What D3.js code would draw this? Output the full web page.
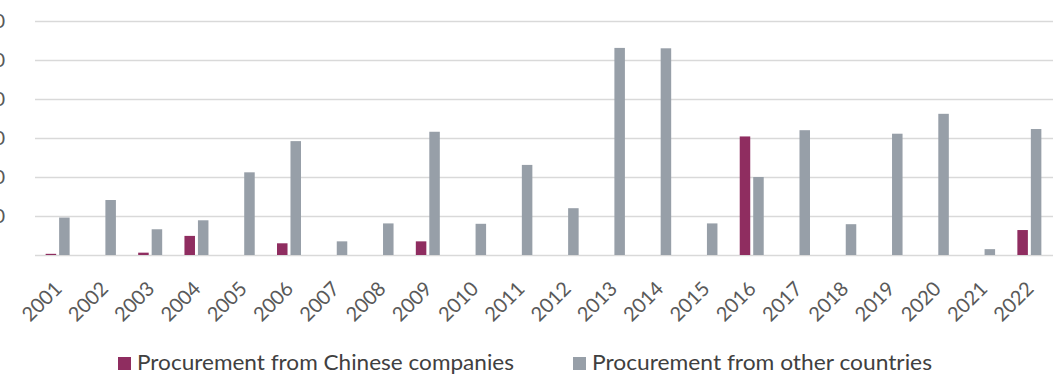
<!DOCTYPE html>
<html>
<head>
<meta charset="utf-8">
<script src="https://cdn.jsdelivr.net/npm/d3@7"></script>
<style>
  html, body { margin: 0; padding: 0; background: #fff; }
  svg { display: block; font-family: Lato, "Open Sans", sans-serif; }
</style>
</head>
<body>
<svg id="chart" width="1063" height="374"></svg>
<script>
// Annual procurement, by source
const years = ["2001","2002","2003","2004","2005","2006","2007","2008","2009","2010","2011",
               "2012","2013","2014","2015","2016","2017","2018","2019","2020","2021","2022"];
const chinese = [3, 0, 6, 49, 0, 30, 0, 0, 35, 0, 0, 0, 0, 0, 0, 304, 0, 0, 0, 0, 0, 64];
const other   = [96, 141, 66, 89, 212, 292, 35, 81, 316, 80, 231, 120, 531, 530, 81, 200, 320, 79, 311, 362, 15, 323];
const seriesNames = ["Procurement from Chinese companies", "Procurement from other countries"];
const seriesColors = ["#8f2d60", "#979fa8"];
const yTicks = [100, 200, 300, 400, 500, 600];

const svg = d3.select("#chart");
const plotLeft = 35, plotRight = 1053, plotTop = 21, y0 = 255;

const x0 = d3.scaleBand().domain(years).range([plotLeft, plotRight]);
const groupW = 24;
const x1 = d3.scaleBand().domain([0, 1]).range([0, groupW]).paddingInner(0.22);
const y = d3.scaleLinear().domain([0, 600]).range([y0, plotTop]);

// horizontal gridlines
svg.append("g")
  .selectAll("line")
  .data([0].concat(yTicks))
  .join("line")
  .attr("x1", plotLeft).attr("x2", plotRight)
  .attr("y1", d => Math.round(y(d)) + 0.5).attr("y2", d => Math.round(y(d)) + 0.5)
  .attr("stroke", "#d9d9d9").attr("stroke-width", 1.5);

// y-axis labels
svg.append("g")
  .selectAll("text")
  .data(yTicks)
  .join("text")
  .attr("x", 5).attr("y", d => y(d))
  .attr("dy", "0.36em")
  .attr("text-anchor", "end")
  .attr("font-size", 20)
  .attr("fill", "#595959")
  .text(d => d);

// bars
const rows = years.map((yr, i) => ({ yr, vals: [chinese[i], other[i]] }));
const groups = svg.append("g")
  .selectAll("g")
  .data(rows)
  .join("g")
  .attr("transform", d => `translate(${x0(d.yr) + x0.bandwidth() / 2 - groupW / 2 - 0.5},0)`);

groups.selectAll("rect")
  .data(d => d.vals.map((v, k) => ({ v, k })))
  .join("rect")
  .attr("x", d => x1(d.k))
  .attr("width", x1.bandwidth())
  .attr("y", d => y(d.v))
  .attr("height", d => y0 - y(d.v))
  .attr("fill", d => seriesColors[d.k]);

// x-axis labels
svg.append("g")
  .selectAll("text")
  .data(years)
  .join("text")
  .attr("transform", d => `translate(${x0(d) + x0.bandwidth() / 2 + 5},290) rotate(-45)`)
  .attr("text-anchor", "end")
  .attr("font-size", 20)
  .attr("fill", "#595959")
  .text(d => d);

// legend
const legendX = [118, 573];
const legendW = [377, 340];
const legend = svg.append("g")
  .selectAll("g")
  .data(seriesNames)
  .join("g")
  .attr("transform", (d, i) => `translate(${legendX[i]},357)`);
legend.append("rect")
  .attr("width", 13).attr("height", 13)
  .attr("fill", (d, i) => seriesColors[i]);
legend.append("text")
  .attr("x", 19).attr("y", 13)
  .attr("font-size", 22)
  .attr("textLength", (d, i) => legendW[i])
  .attr("lengthAdjust", "spacingAndGlyphs")
  .attr("fill", "#404040")
  .text(d => d);
</script>
</body>
</html>
